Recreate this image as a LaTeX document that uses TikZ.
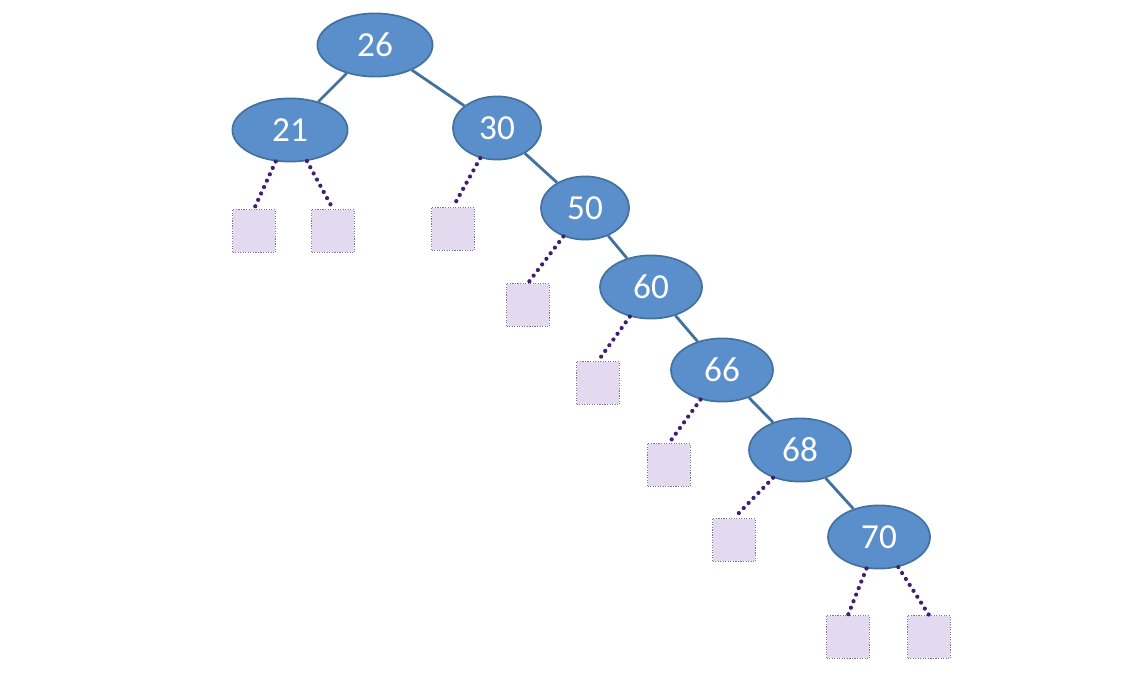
\documentclass[tikz,border=0pt]{standalone}
\usepackage{fontspec}
\setmainfont{Carlito}
\usetikzlibrary{positioning, shapes.geometric}

\definecolor{keyfill}{HTML}{5B8FCB}
\definecolor{keyline}{HTML}{41719C}
\definecolor{leaffill}{HTML}{E4DAF0}
\definecolor{leafline}{HTML}{7A7290}
\definecolor{nullline}{HTML}{3F1F6E}

\begin{document}
\begin{tikzpicture}[
    x=0.025cm, y=-0.025cm,
    key/.style={ellipse, draw=keyline, line width=1.2pt, fill=keyfill,
      inner sep=0pt, minimum height=1.58cm, text=white,
      font=\fontsize{25}{27}\selectfont},
    leaf/.style={rectangle, draw=leafline, densely dotted, line width=0.8pt,
      fill=leaffill, minimum size=1.07cm, inner sep=0pt},
    edge/.style={draw=keyline, line width=2pt},
    nil/.style={draw=nullline, line width=3pt, line cap=round,
      dash pattern=on 0pt off 5pt}
  ]
    \useasboundingbox (0,0) rectangle (1123,677);

    % keys
    \node[key, minimum width=2.88cm] (n26) at (375,45)  {26};
    \node[key, minimum width=2.88cm] (n21) at (290,130) {21};
    \node[key, minimum width=2.2cm]  (n30) at (497,128) {30};
    \node[key, minimum width=2.2cm]  (n50) at (585,208) {50};
    \node[key, minimum width=2.55cm] (n60) at (651,287) {60};
    \node[key, minimum width=2.55cm] (n66) at (722,370) {66};
    \node[key, minimum width=2.55cm] (n68) at (800,450) {68};
    \node[key, minimum width=2.55cm] (n70) at (879,537) {70};

    % empty subtrees
    \node[leaf] (e21a) at (254,231) {};
    \node[leaf] (e21b) at (333,231) {};
    \node[leaf] (e30)  at (453,229) {};
    \node[leaf] (e50)  at (528,305) {};
    \node[leaf] (e60)  at (598,383) {};
    \node[leaf] (e66)  at (669,465) {};
    \node[leaf] (e68)  at (734,540) {};
    \node[leaf] (e70a) at (848,637) {};
    \node[leaf] (e70b) at (929,637) {};

    \path[edge] (n26) -- (n21);
    \path[edge] (n26) -- (n30);
    \path[edge] (n30) -- (n50);
    \path[edge] (n50) -- (n60);
    \path[edge] (n60) -- (n66);
    \path[edge] (n66) -- (n68);
    \path[edge] (n68) -- (n70);

    \path[nil] (n21) -- (e21a.north);
    \path[nil] (n21) -- (e21b.north);
    \path[nil] (n30) -- (e30.north);
    \path[nil] (n50) -- (e50.north);
    \path[nil] (n60) -- (e60.north);
    \path[nil] (n66) -- (e66.north);
    \path[nil] (n68) -- (e68.north);
    \path[nil] (n70) -- (e70a.north);
    \path[nil] (n70) -- (e70b.north);
  \end{tikzpicture}
\end{document}
